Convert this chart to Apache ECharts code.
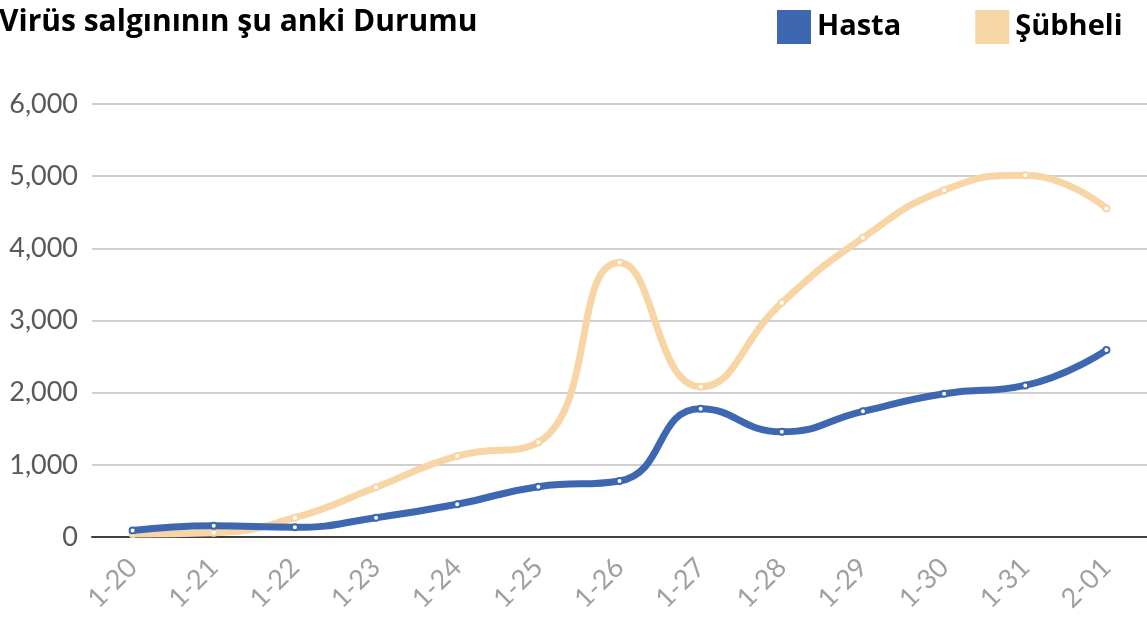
<!DOCTYPE html>
<html>
<head>
<meta charset="utf-8">
<script src="https://cdn.jsdelivr.net/npm/echarts@6/dist/echarts.min.js"></script>
<style>html,body{margin:0;padding:0;background:#fff}#chart{width:1147px;height:623px}</style>
</head>
<body>
<div id="chart"></div>
<script>
var days = ['1-20','1-21','1-22','1-23','1-24','1-25','1-26','1-27','1-28','1-29','1-30','1-31','2-01'];
var hasta = [90,157,134,267,453,697,776,1777,1458,1741,1985,2101,2590];
var subheli = [40,60,267,688,1122,1312,3805,2082,3245,4145,4806,5014,4553];
var yTicks = {min:0,max:6000,interval:1000};

var ch = echarts.init(document.getElementById('chart'));
ch.setOption({
    animation:false,
    title:{text:'Virüs salgınının şu anki Durumu',left:-6,top:2,
        textStyle:{fontFamily:'Open Sans',fontSize:30,fontWeight:'bold',color:'#000'}},
    legend:{left:772,top:5,itemWidth:34,itemHeight:34,itemGap:74,icon:'rect',
        textStyle:{fontFamily:'Open Sans',fontSize:29,fontWeight:'bold',color:'#000',padding:[0,0,0,1]},
        data:['Hasta','Şübheli']},
    grid:{left:92,right:-3,top:104,bottom:86},
    xAxis:{type:'category',data:days,boundaryGap:true,
        axisLine:{lineStyle:{color:'#404040',width:2}},axisTick:{show:false},
        axisLabel:{rotate:45,margin:26,fontFamily:'Lato',fontSize:27,color:'#a0a0a0'}},
    yAxis:{type:'value',min:yTicks.min,max:yTicks.max,interval:yTicks.interval,
        axisLine:{show:false},axisTick:{show:false},
        splitLine:{lineStyle:{color:'#d0d0d0',width:2}},
        axisLabel:{margin:14,fontFamily:'Lato',fontSize:27,color:'#595959',
            formatter:function(v){return v.toLocaleString('en-US');}}},
    series:[
        {name:'Hasta',type:'line',data:hasta,smooth:true,symbol:'emptyCircle',symbolSize:6,
            lineStyle:{width:7,color:'#3d67b1'},itemStyle:{color:'#3d67b1',borderWidth:1.5},z:3},
        {name:'Şübheli',type:'line',data:subheli,smooth:true,symbol:'emptyCircle',symbolSize:6,
            lineStyle:{width:7,color:'#f8d5a5'},itemStyle:{color:'#f8d5a5',borderWidth:1.5},z:2}
    ]
});
</script>
</body>
</html>
